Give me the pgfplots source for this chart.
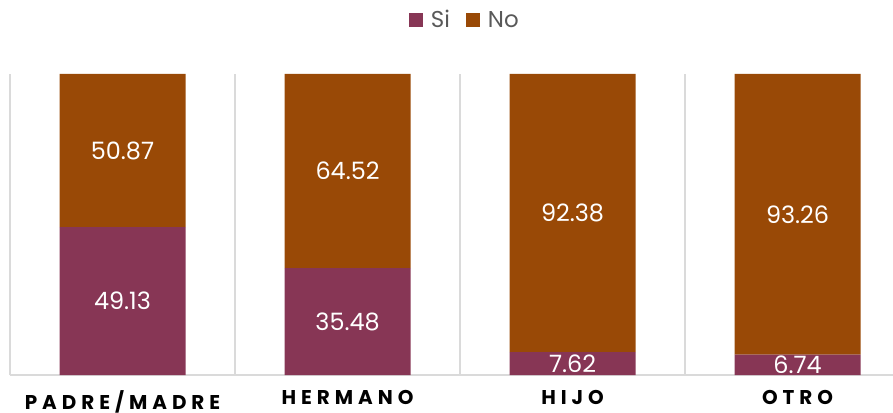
\documentclass[border=0pt]{standalone}
\usepackage{pgfplots}
\pgfplotsset{compat=1.18}
\usepackage{fontspec}
\setmainfont{Poppins}
\newfontfamily\catfont[LetterSpace=25]{Poppins}
\definecolor{si}{HTML}{873655}
\definecolor{no}{HTML}{994906}
\definecolor{gridc}{HTML}{DADADA}
\definecolor{legtext}{HTML}{595959}
\begin{document}
\begin{tikzpicture}
\begin{axis}[
  ybar stacked,
  bar width=0.56,
  scale only axis,
  width=883bp, height=301bp,
  xmin=-0.5, xmax=3.424,
  ymin=0, ymax=100,
  xtick={0,1,2,3},
  xticklabels={PADRE/MADRE, HERMANO, HIJO, OTRO},
  xticklabel style={font=\catfont\bfseries\fontsize{20}{23}\selectfont, text=black,
    inner sep=1bp, yshift=-14bp},
  major tick length=0pt,
  extra x ticks={-0.5,0.5,1.5,2.5},
  extra x tick labels={},
  extra x tick style={grid=major, major grid style={gridc, line width=1.2bp}},
  ytick=\empty,
  axis y line=none,
  axis x line*=bottom,
  x axis line style={gridc, line width=1.5bp, -},
  point meta=explicit symbolic,
  nodes near coords,
  every node near coord/.append style={anchor=center, text=white,
    font=\fontsize{24}{28}\selectfont},
  legend style={at={(axis description cs:0.515,1.18)}, anchor=center,
    draw=none, fill=none, legend columns=-1, text=legtext,
    font=\fontsize{23}{27}\selectfont,
    /tikz/every odd column/.append style={column sep=6bp},
    /tikz/every even column/.append style={column sep=14bp}},
  legend image code/.code={\fill[#1] (0bp,-7bp) rectangle (14bp,7bp);},
]
\addplot[fill=si, draw=none] coordinates {
  (0,49.13) [49.13]
  (1,35.48) [35.48]
  (2,7.62) [7.62]
  (3,6.74) [6.74]
};
\addlegendentry{Si}
\addplot[fill=no, draw=none] coordinates {
  (0,50.87) [50.87]
  (1,64.52) [64.52]
  (2,92.38) [92.38]
  (3,93.26) [93.26]
};
\addlegendentry{No}
\end{axis}
\pgfresetboundingbox
\path[use as bounding box] (-10bp,-38bp) rectangle (883bp,375bp);
\end{tikzpicture}
\end{document}
